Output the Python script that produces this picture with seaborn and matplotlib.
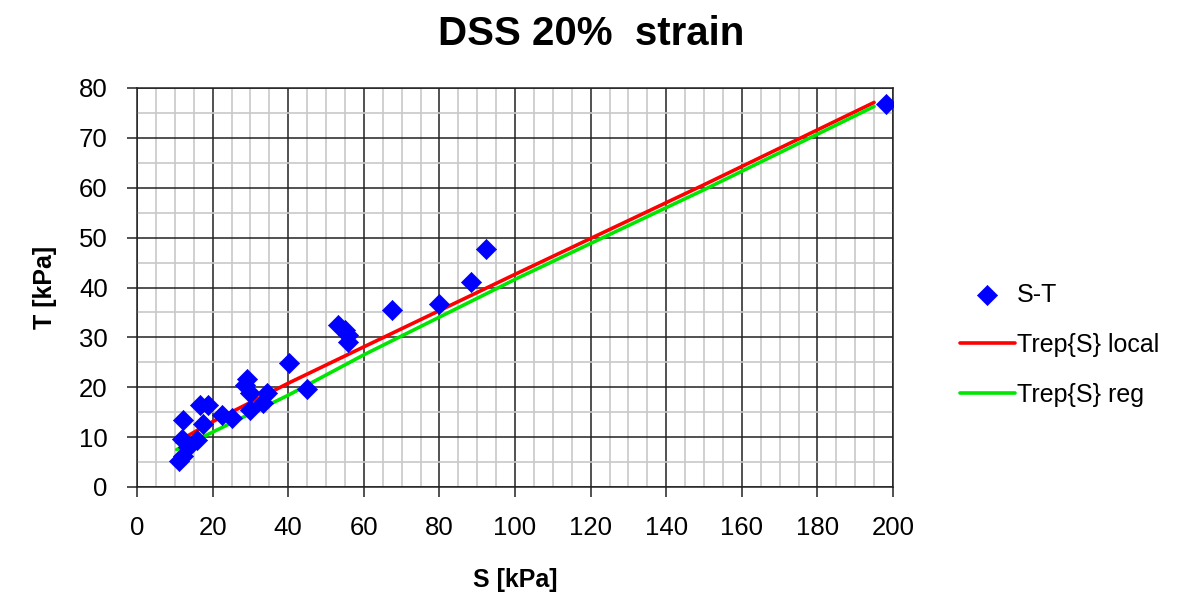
import matplotlib
matplotlib.use("Agg")
import matplotlib.pyplot as plt
import seaborn as sns
import pandas as pd
from matplotlib.ticker import MultipleLocator
from matplotlib import font_manager

# ---- data ----
s_points = [198.1, 92.2, 88.4, 79.9, 67.5, 53.3, 55.0, 55.7, 55.9, 40.3, 44.9,
            29.0, 28.6, 29.9, 34.3, 33.4, 29.9, 25.1, 22.4, 16.7, 18.9, 12.3,
            17.5, 11.8, 15.8, 13.6, 12.3, 11.2]
t_points = [76.8, 47.7, 41.2, 36.7, 35.5, 32.5, 31.5, 30.5, 29.1, 24.8, 19.6,
            21.6, 20.4, 18.8, 18.8, 16.9, 15.4, 13.9, 14.4, 16.4, 16.4, 13.5,
            12.7, 9.7, 9.4, 8.0, 6.3, 5.3]
line_s = [10.5, 20, 40, 60, 101, 150, 195]
local_t = [9.0, 13.1, 20.8, 28.1, 43.0, 60.6, 77.1]
reg_t = [7.5, 11.0, 18.4, 26.5, 42.0, 59.6, 76.3]
x_ticks = [0, 20, 40, 60, 80, 100, 120, 140, 160, 180, 200]
y_ticks = [0, 10, 20, 30, 40, 50, 60, 70, 80]

sns.set_theme(style="white")
names = {f.name for f in font_manager.fontManager.ttflist}
fam = "Liberation Sans Narrow" if "Liberation Sans Narrow" in names else "Liberation Sans"
plt.rcParams["font.family"] = [fam, "DejaVu Sans"]
plt.rcParams["text.color"] = "black"
plt.rcParams["axes.labelcolor"] = "black"
plt.rcParams["xtick.color"] = "black"
plt.rcParams["ytick.color"] = "black"

fig = plt.figure(figsize=(11.83, 5.99), dpi=100)
ax = fig.add_axes([137 / 1183, 1 - 487 / 599, (893 - 137) / 1183, (487 - 88) / 599])

pts = pd.DataFrame({"S": s_points, "T": t_points})
ldf = pd.DataFrame({"S": line_s, "local": local_t, "reg": reg_t})

sns.scatterplot(data=pts, x="S", y="T", marker="D", s=105, color="#0000ff",
                edgecolor="#0000ff", linewidth=0.5, ax=ax, label="S-T", zorder=4)
sns.lineplot(data=ldf, x="S", y="local", color="#ff0000", linewidth=2.6,
             ax=ax, label="Trep{S} local", zorder=3)
sns.lineplot(data=ldf, x="S", y="reg", color="#00e600", linewidth=2.6,
             ax=ax, label="Trep{S} reg", zorder=3)

ax.set_xlim(0, 200)
ax.set_ylim(0, 80)
ax.set_xticks(x_ticks)
ax.set_yticks(y_ticks)
ax.xaxis.set_minor_locator(MultipleLocator(5))
ax.yaxis.set_minor_locator(MultipleLocator(5))
ax.grid(which="minor", color="#c8c8c8", linewidth=1.2, zorder=0)
ax.grid(which="major", color="#222222", linewidth=1.1, zorder=1)
ax.set_axisbelow(True)
for sp in ax.spines.values():
    sp.set_color("#222222")
    sp.set_linewidth(1.1)
ax.tick_params(axis="both", which="major", direction="out", length=7, width=1.1,
               color="#222222", labelsize=18.5, pad=14, labelcolor="black")
ax.tick_params(which="minor", length=0)
ax.tick_params(axis="x", bottom=True)
ax.tick_params(axis="y", left=True)

ax.set_xlabel("S [kPa]", fontsize=18, fontweight="bold", labelpad=20, color="black")
ax.set_ylabel("T [kPa]", fontsize=18, fontweight="bold", labelpad=16, color="black")
fig.suptitle("DSS 20%  strain", fontsize=29, fontweight="bold", y=0.975, color="black")

leg = ax.legend(loc="center left", bbox_to_anchor=(1.075, 0.356), frameon=False,
                fontsize=18, handlelength=2.2, handletextpad=0.1,
                labelspacing=1.05, borderaxespad=0)
for t in leg.get_texts():
    t.set_color("black")

fig.savefig("out.png", dpi=100)
